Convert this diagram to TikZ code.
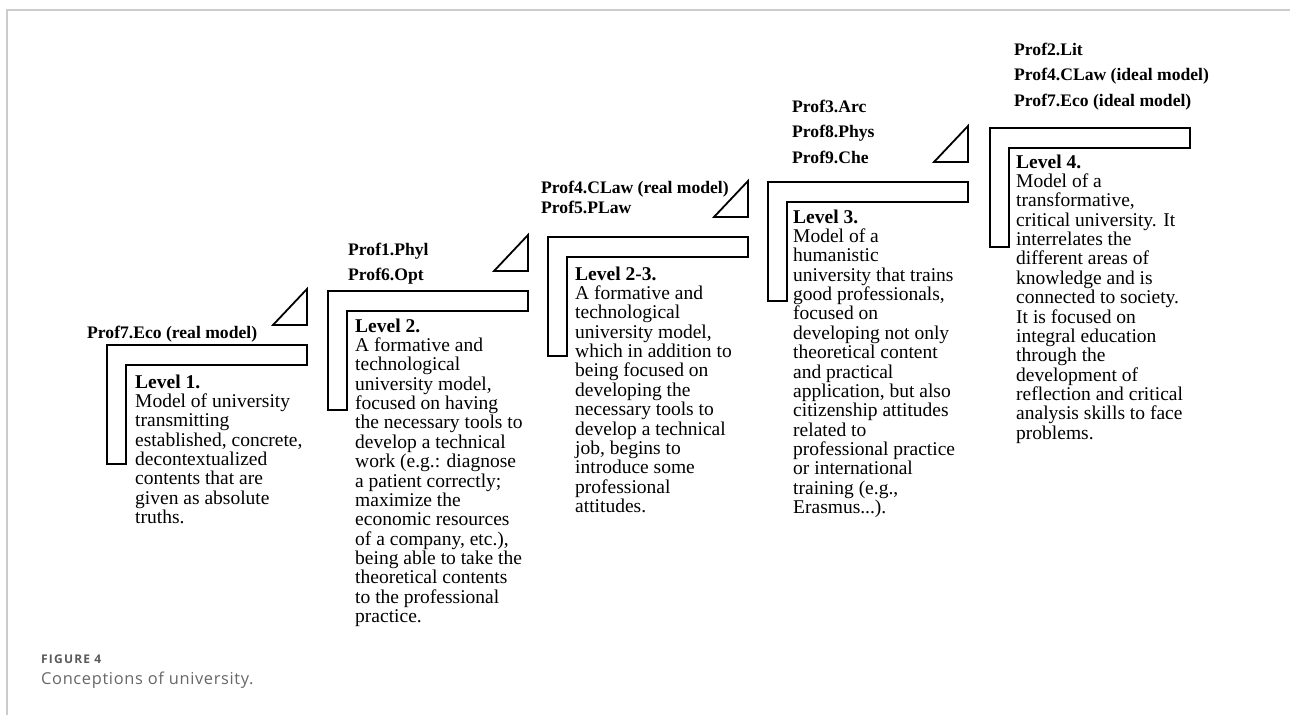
\documentclass[tikz,border=0pt]{standalone}
\usepackage{fontspec}
\setmainfont{Liberation Serif}
\newfontfamily\capfont[LetterSpace=4]{Open Sans}
\newfontfamily\capheadfont[LetterSpace=10]{Open Sans}
\newcommand\tightlines{\lineskiplimit=-50pt\relax\lineskip=0pt\relax}
% fixed first-line height, so that a north west anchor sits a known distance above the first baseline
\newcommand\firstline[1]{\rule{0pt}{#1}}
\definecolor{framegray}{HTML}{CCCCCC}
\definecolor{capgray}{HTML}{5A5A5C}
\begin{document}
\begin{tikzpicture}[x=1pt,y=-1pt,
  outline/.style={draw=black,line width=1.8pt,line join=miter},
  frameline/.style={draw=framegray,line width=1.6pt},
  proflabel/.style={anchor=north west,inner sep=0pt,align=left,
    font=\fontsize{17.6}{25.5}\selectfont\bfseries\tightlines},
  leveltext/.style={anchor=north west,inner sep=0pt,align=left,
    font=\fontsize{19.5}{19.35}\selectfont\tightlines},
  stairL/.pic={\path[outline] (0,0) -- (200,0) -- (200,20) -- (19,20) -- (19,119) -- (0,119) -- cycle;},
  ramp/.pic={\path[outline] (166,-20) -- (200,-20) -- (200,-56) -- cycle;}
]
\useasboundingbox (0,0) rectangle (1290,715);

% page frame
\draw[frameline] (7,715) -- (7,10) -- (1290,10);

% staircase
\pic at (107,345) {stairL};
\pic at (107,345) {ramp};
\pic at (328,291) {stairL};
\pic at (328,291) {ramp};
\pic at (548,237) {stairL};
\pic at (548,237) {ramp};
\pic at (768,182) {stairL};
\pic at (768,182) {ramp};
\pic at (990,128) {stairL};

% professors on each step (first baseline = y + 13)
\node[proflabel] (p1) at (87,325) {\firstline{13pt}Prof7.Eco (real model)};
\node[proflabel] (p2) at (348,242) {\firstline{13pt}Prof1.Phyl\\Prof6.Opt};
\node[proflabel,font=\fontsize{17.6}{20}\selectfont\bfseries\tightlines] (p3) at (541,180) {\firstline{13pt}Prof4.CLaw (real model)\\Prof5.PLaw};
\node[proflabel] (p4) at (792,99) {\firstline{13pt}Prof3.Arc\\Prof8.Phys\\Prof9.Che};
\node[proflabel] (p5) at (1014,42) {\firstline{13pt}Prof2.Lit\\Prof4.CLaw (ideal model)\\Prof7.Eco (ideal model)};

% level descriptions (first baseline = y + 14)
\node[leveltext] (l1) at (135,374) {\firstline{14pt}\textbf{Level 1.}\\Model of university\\transmitting\\established, concrete,\\decontextualized\\contents that are\\given as absolute\\truths.};
\node[leveltext] (l2) at (355,318) {\firstline{14pt}\textbf{Level 2.}\\A formative and\\technological\\university model,\\focused on having\\the necessary tools to\\develop a technical\\work (e.g.: diagnose\\a patient correctly;\\maximize the\\economic resources\\of a company, etc.),\\being able to take the\\theoretical contents\\to the professional\\practice.};
\node[leveltext] (l23) at (575,266) {\firstline{14pt}\textbf{Level 2-3.}\\A formative and\\technological\\university model,\\which in addition to\\being focused on\\developing the\\necessary tools to\\develop a technical\\job, begins to\\introduce some\\professional\\attitudes.};
\node[leveltext] (l3) at (793,209) {\firstline{14pt}\textbf{Level 3.}\\Model of a\\humanistic\\university that trains\\good professionals,\\focused on\\developing not only\\theoretical content\\and practical\\application, but also\\citizenship attitudes\\related to\\professional practice\\or international\\training (e.g.,\\Erasmus...).};
\node[leveltext] (l4) at (1016,154) {\firstline{14pt}\textbf{Level 4.}\\Model of a\\transformative,\\critical university. It\\interrelates the\\different areas of\\knowledge and is\\connected to society.\\It is focused on\\integral education\\through the\\development of\\reflection and critical\\analysis skills to face\\problems.};

% caption
\node[anchor=base west,inner sep=0pt,text=capgray,font=\capheadfont\fontsize{12}{14}\selectfont\bfseries] (fig) at (41,663) {FIGURE 4};
\node[anchor=base west,inner sep=0pt,text=capgray!92,font=\capfont\fontsize{16.4}{19}\selectfont] (cap) at (41,684) {Conceptions of university.};
\end{tikzpicture}
\end{document}
